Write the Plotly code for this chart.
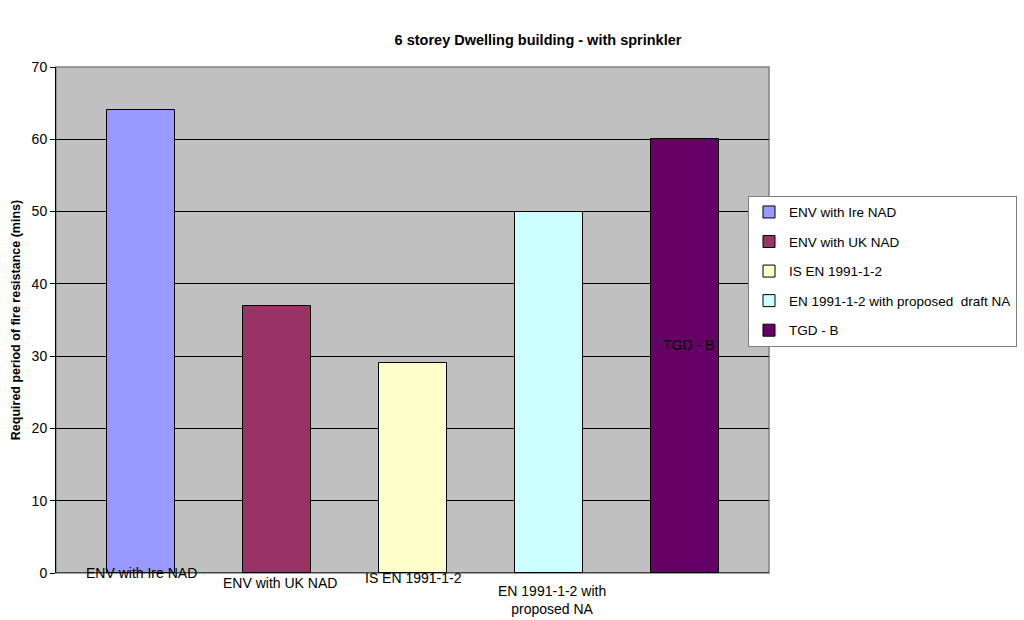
import plotly.graph_objects as go

# Series names, values (minutes) and fill colours
series_names = [
    "ENV with Ire NAD",
    "ENV with UK NAD",
    "IS EN 1991-1-2",
    "EN 1991-1-2 with proposed  draft NA",
    "TGD - B",
]
values = [64, 37, 29, 50, 60]
colors = ["#9999FF", "#993366", "#FFFFCC", "#CCFFFF", "#660066"]

# Data labels shown with each bar
bar_labels = [
    "ENV with Ire NAD",
    "ENV with UK NAD",
    "IS EN 1991-1-2",
    "EN 1991-1-2 with<br>proposed NA",
    "TGD - B",
]

y_ticks = [0, 10, 20, 30, 40, 50, 60, 70]

FONT = "Liberation Sans, Arial, sans-serif"

fig = go.Figure()
for i, (name, val, col) in enumerate(zip(series_names, values, colors)):
    fig.add_trace(go.Bar(
        x=[i], y=[val], name=name,
        marker=dict(color=col, line=dict(color="black", width=1)),
        width=0.5,
        legendgroup=f"g{i}",
        hoverinfo="y",
    ))

# label anchor: (y in axis units, pixel offsets dx, dy)
label_pos = [(0, 0, 0), (0, 3, -10), (0, 0, -5), (0, 3, -27), (31.6, 4, 0)]
for i, (txt, (yy, dx, dy)) in enumerate(zip(bar_labels, label_pos)):
    fig.add_annotation(
        x=i, y=yy, xref="x", yref="y", text=txt, showarrow=False,
        font=dict(family=FONT, size=14, color="black"),
        xanchor="center", yanchor="middle", xshift=dx, yshift=dy,
    )

# Grey frame around the plot area
fig.add_shape(type="rect", xref="paper", yref="paper", x0=0, y0=0, x1=1, y1=1,
              line=dict(color="#808080", width=1.5), layer="below")

fig.update_layout(
    width=1024, height=620,
    margin=dict(l=56, r=255, t=67, b=47, autoexpand=False),
    paper_bgcolor="white",
    plot_bgcolor="#C0C0C0",
    font=dict(family=FONT, size=14, color="black"),
    title=dict(
        text="<b>6 storey Dwelling building - with sprinkler</b>",
        x=538 / 1024, xanchor="center", xref="container",
        y=1 - 40 / 620, yref="container", yanchor="middle",
        font=dict(family=FONT, size=14.5, color="black"),
    ),
    bargap=0,
    showlegend=True,
    legend=dict(
        x=(748 - 56) / 713, y=(573 - 195.7) / 506,
        xanchor="left", yanchor="top",
        bgcolor="white", bordercolor="#808080", borderwidth=1,
        font=dict(family=FONT, size=13.5, color="black"),
        tracegroupgap=9,
        traceorder="grouped",
        itemwidth=30,
    ),
)

fig.update_xaxes(
    range=[-0.628, 4.62],
    showticklabels=False, ticks="",
    showgrid=False, zeroline=False,
    showline=False,
)
fig.update_yaxes(
    range=[0, 70],
    tickvals=y_ticks,
    ticks="outside", ticklen=5, tickcolor="black",
    showgrid=True, gridcolor="black", gridwidth=1,
    zeroline=False,
    showline=True, linecolor="black", linewidth=1,
    tickfont=dict(family=FONT, size=14, color="black"),
    title=dict(text="<b>Required period of fire resistance (mins)</b>",
               font=dict(family=FONT, size=12.5, color="black"), standoff=8),
)
# Black baseline along the category axis
fig.add_shape(type="line", xref="paper", yref="y", x0=0, x1=1, y0=0, y1=0,
              line=dict(color="black", width=1))

fig.write_html("out.html")
